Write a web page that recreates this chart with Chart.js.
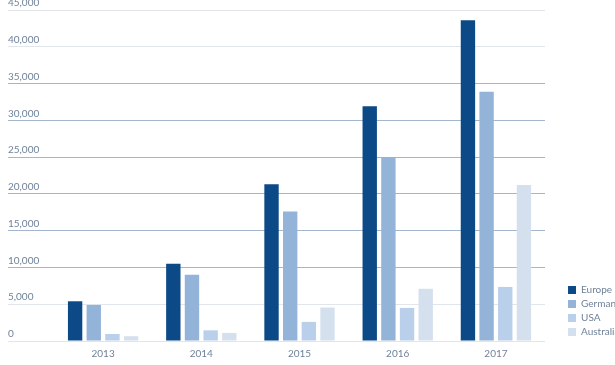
<!DOCTYPE html>
<html>
<head>
<meta charset="utf-8">
<script src="https://cdn.jsdelivr.net/npm/chart.js@4/dist/chart.umd.min.js"></script>
<style>
  html, body { margin: 0; padding: 0; background: #fff; overflow: hidden; }
  #wrap { width: 631px; height: 365px; }
</style>
</head>
<body>
<div id="wrap"><canvas id="salesChart"></canvas></div>
<script>
const years = ['2013', '2014', '2015', '2016', '2017'];
const europe = [5400, 10500, 21300, 31900, 43600];
const germany = [4900, 9000, 17600, 25000, 33900];
const usa = [950, 1450, 2600, 4500, 7350];
const australia = [650, 1100, 4550, 7100, 21200];

const tickColor = '#6f8299';
const fontName = 'Lato, "Open Sans", sans-serif';

// the middle grid lines look darker in the original
function gridColor(ctx) {
    const v = ctx.tick ? ctx.tick.value : 0;
    return (v >= 10000 && v <= 35000) ? '#a3b6cd' : '#e1e6ec';
}

const ctx = document.getElementById('salesChart').getContext('2d');

let salesChart = new Chart(ctx, {
    type: 'bar',
    data: {
        labels: years,
        datasets: [
            { label: 'Europe', data: europe, backgroundColor: '#0b4a86' },
            { label: 'Germany', data: germany, backgroundColor: '#94b3d9' },
            { label: 'USA', data: usa, backgroundColor: '#b9cfea' },
            { label: 'Australia', data: australia, backgroundColor: '#d5e0ee' }
        ]
    },
    options: {
        responsive: true,
        maintainAspectRatio: false,
        animation: false,
        datasets: {
            bar: { barPercentage: 0.77, categoryPercentage: 0.76, borderWidth: 0 }
        },
        layout: { padding: { top: 10, left: 8, right: 0, bottom: 4 } },
        plugins: {
            tooltip: { enabled: false },
            legend: {
                position: 'right',
                align: 'end',
                fullSize: false,
                labels: {
                    boxWidth: 8,
                    boxHeight: 8,
                    padding: 4,
                    color: tickColor,
                    font: { family: fontName, size: 10 }
                }
            }
        },
        scales: {
            x: {
                grid: { display: false, drawTicks: false },
                border: { display: false },
                ticks: { color: tickColor, padding: 7, font: { family: fontName, size: 10 } },
                afterFit: function(scale) { scale.height = 20; }
            },
            y: {
                min: 0,
                max: 45000,
                border: { display: false },
                grid: { color: gridColor, lineWidth: 1, tickLength: 46 },
                ticks: {
                    stepSize: 5000,
                    crossAlign: 'far',
                    labelOffset: -7,
                    color: tickColor,
                    font: { family: fontName, size: 10 }
                },
                afterFit: function(scale) { scale.width = 46; }
            },
            gap: {
                type: 'linear',
                position: 'right',
                display: true,
                grid: { display: false },
                border: { display: false },
                ticks: { display: false },
                afterFit: function(scale) { scale.width = 19; }
            }
        }
    }
});
</script>
</body>
</html>
